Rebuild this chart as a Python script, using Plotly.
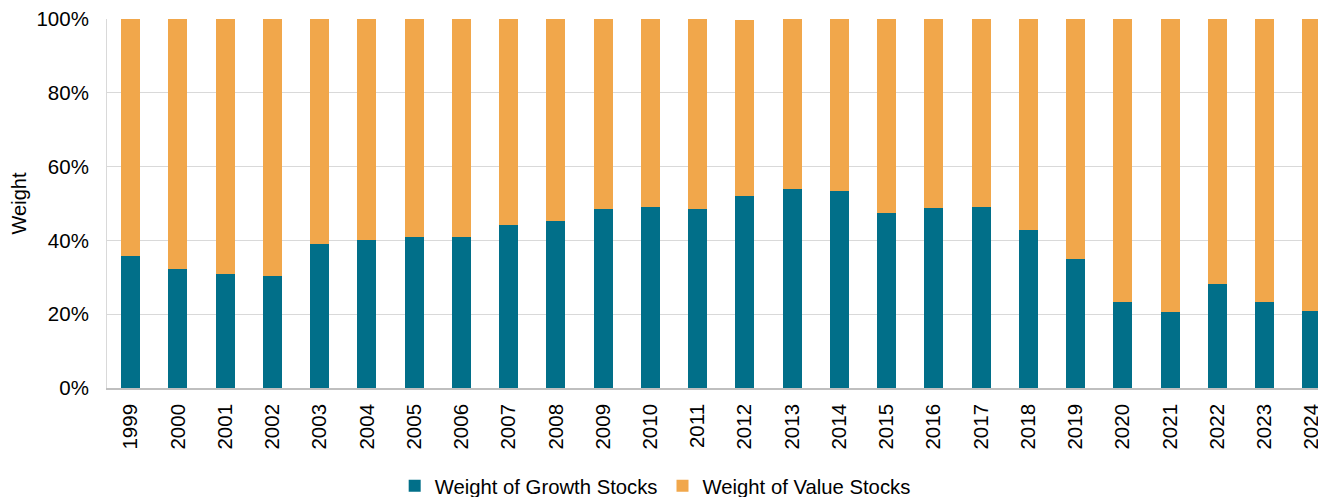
import plotly.graph_objects as go

years = [str(y) for y in range(1999, 2025)]
growth = [35.9, 32.2, 30.9, 30.4, 39.1, 40.1, 40.9, 41.0, 44.1, 45.3,
          48.6, 49.1, 48.4, 51.9, 53.9, 53.4, 47.5, 48.9, 49.1, 42.8,
          35.0, 23.3, 20.6, 28.2, 23.3, 20.9]
value = [64.1, 67.8, 69.1, 69.6, 60.9, 59.9, 59.1, 59.0, 55.9, 54.7,
         51.4, 50.9, 51.6, 47.7, 46.1, 46.6, 52.5, 51.1, 50.9, 57.2,
         65.0, 76.7, 79.4, 71.8, 76.7, 79.1]

FONT = "Liberation Sans, Arial, sans-serif"
fig = go.Figure()
fig.add_trace(go.Bar(x=years, y=growth, name="Weight of Growth Stocks",
                     marker=dict(color="#016F89", line=dict(width=0))))
fig.add_trace(go.Bar(x=years, y=value, name="Weight of Value Stocks",
                     marker=dict(color="#F1A74B", line=dict(width=0))))

# the page body adds an 8px offset, so the figure is sized to fill the rest
fig.update_layout(
    width=1318, height=489,
    barmode="stack", bargap=0.6,
    margin=dict(l=99, r=0, t=11, b=109, autoexpand=False),
    plot_bgcolor="white", paper_bgcolor="white",
    font=dict(family=FONT, size=20, color="#000000"),
    showlegend=True,
    legend=dict(orientation="h", x=0.236, xanchor="left", y=-0.266, yanchor="middle",
                font=dict(size=20.3), traceorder="normal", itemwidth=30),
)
fig.update_xaxes(type="category", range=[-0.5, 25.3], tickangle=-90,
                 automargin=False,
                 showline=True, linecolor="#BFBFBF", linewidth=1.5,
                 showgrid=False, ticks="", ticklabelstandoff=6,
                 tickfont=dict(size=20.5))
fig.update_yaxes(range=[0, 100], dtick=20, ticksuffix="%",
                 automargin=False, ticklabeloverflow="allow",
                 showgrid=True, gridcolor="#D9D9D9", gridwidth=1.2,
                 showline=True, linecolor="#D9D9D9", linewidth=1,
                 zeroline=False, ticks="", ticklabelstandoff=13,
                 title=dict(text="Weight", standoff=13, font=dict(size=20)),
                 tickfont=dict(size=20.5))

fig.write_html("out.html")
